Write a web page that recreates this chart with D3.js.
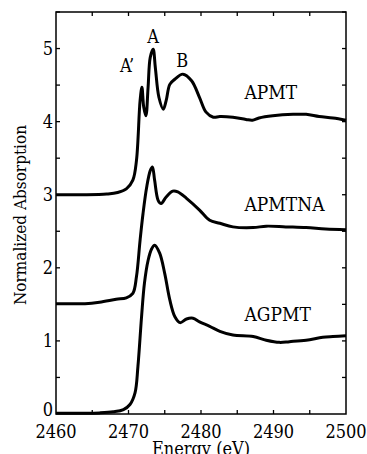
<!DOCTYPE html>
<html>
<head>
<meta charset="utf-8">
<script src="https://cdn.jsdelivr.net/npm/d3@7"></script>
<style>
  body { margin: 0; background: #fff; }
  svg { display: block; }
  svg text { font-family: 'DejaVu Serif Condensed', 'DejaVu Serif', serif; font-stretch: condensed; }
</style>
</head>
<body>
<svg id="chart" width="367" height="454"></svg>
<script>
// energy grid (eV) and normalized absorption
const apmtE = [2460, 2464, 2467, 2468.5, 2469.7, 2470.6, 2471.1, 2471.6, 2471.85, 2472.1, 2472.4, 2472.7, 2473.0, 2473.4, 2473.7, 2474.2, 2474.8, 2475.2, 2475.7, 2476.4, 2477.5, 2478.7, 2479.8, 2480.7, 2481.7, 2482.6, 2484.4, 2486.2, 2487.1, 2488.0, 2489.9, 2492.7, 2494.5, 2496.3, 2498.2, 2500]
const apmtV = [3.0, 3.0, 3.01, 3.03, 3.08, 3.2, 3.47, 4.29, 4.47, 4.2, 4.08, 4.47, 4.88, 4.99, 4.74, 4.33, 4.17, 4.29, 4.51, 4.58, 4.65, 4.56, 4.33, 4.13, 4.06, 4.07, 4.06, 4.03, 4.02, 4.05, 4.08, 4.10, 4.10, 4.07, 4.05, 4.02]

const apmtnaE = [2460, 2464, 2466, 2468.3, 2469.7, 2470.6, 2471.1, 2471.6, 2472.0, 2472.5, 2473.0, 2473.3, 2473.6, 2474.1, 2474.5, 2475.2, 2476.1, 2476.8, 2478.0, 2479.8, 2481.2, 2482.6, 2484.4, 2487.2, 2489.0, 2491.7, 2494.5, 2497.2, 2500]
const apmtnaV = [1.51, 1.51, 1.53, 1.57, 1.59, 1.65, 1.88, 2.38, 2.74, 3.10, 3.33, 3.38, 3.2, 2.92, 2.88, 2.97, 3.05, 3.04, 2.95, 2.79, 2.65, 2.61, 2.56, 2.55, 2.57, 2.56, 2.55, 2.53, 2.52]

const agpmtE = [2460, 2464, 2466, 2467.9, 2469.3, 2470.2, 2470.9, 2471.3, 2471.8, 2472.2, 2472.7, 2473.2, 2473.6, 2474.3, 2475.0, 2475.7, 2476.4, 2477.1, 2478.0, 2478.9, 2479.8, 2481.2, 2482.6, 2484.4, 2487.2, 2489.0, 2490.8, 2492.2, 2494.5, 2496.8, 2498.2, 2500]
const agpmtV = [0.01, 0.01, 0.015, 0.03, 0.06, 0.13, 0.29, 0.65, 1.33, 1.79, 2.10, 2.26, 2.31, 2.2, 1.92, 1.56, 1.33, 1.25, 1.30, 1.31, 1.26, 1.20, 1.13, 1.08, 1.06, 1.01, 0.98, 0.99, 1.01, 1.05, 1.06, 1.07]

const seriesNames = ['APMT', 'APMTNA', 'AGPMT']
const seriesLabelE = 2486.0
const seriesLabelValue = [4.31, 2.78, 1.27]
const xTickLabels = [2460, 2470, 2480, 2490, 2500]
const yTickLabels = [0, 1, 2, 3, 4, 5]
const peakNames = ['A\u2019', 'A', 'B']
const peakE = [2469.8, 2473.4, 2477.4]
const peakV = [4.68, 5.08, 4.75]

const width = 367
const height = 454
const margin = { top: 12, right: 21, bottom: 40, left: 56 }

const svg = d3.select('#chart')

const x = d3.scaleLinear().domain([2460, 2500]).range([margin.left, width - margin.right])
const y = d3.scaleLinear().domain([0, 5.5]).range([height - margin.bottom, margin.top])

const xMinor = d3.range(2460, 2500.1, 5)
const yMinor = d3.range(0, 5.51, 0.5)
const tickLen = 4

// frame
svg
  .append('rect')
  .attr('x', x(2460))
  .attr('y', y(5.5))
  .attr('width', x(2500) - x(2460))
  .attr('height', y(0) - y(5.5))
  .attr('fill', 'none')
  .attr('stroke', '#000')
  .attr('stroke-width', 1.5)

// inward ticks on all four sides
const ticks = svg.append('g').attr('stroke', '#000').attr('stroke-width', 1.3)
xMinor.slice(1, -1).forEach((e) => {
  ticks.append('line').attr('x1', x(e)).attr('x2', x(e)).attr('y1', y(0)).attr('y2', y(0) - tickLen)
  ticks.append('line').attr('x1', x(e)).attr('x2', x(e)).attr('y1', y(5.5)).attr('y2', y(5.5) + tickLen)
})
yMinor.slice(1).forEach((v) => {
  ticks.append('line').attr('x1', x(2460)).attr('x2', x(2460) + tickLen).attr('y1', y(v)).attr('y2', y(v))
  ticks.append('line').attr('x1', x(2500)).attr('x2', x(2500) - tickLen).attr('y1', y(v)).attr('y2', y(v))
})

// tick labels
svg
  .append('g')
  .attr('font-size', 18)
  .selectAll('text')
  .data(xTickLabels)
  .join('text')
  .attr('x', (d) => x(d))
  .attr('y', height - 16)
  .attr('text-anchor', 'middle')
  .text((d) => d)

svg
  .append('g')
  .attr('font-size', 18)
  .selectAll('text')
  .data(yTickLabels)
  .join('text')
  .attr('x', x(2460) - 3)
  .attr('y', (d) => (d === 0 ? y(d) - 4 : y(d)))
  .attr('dy', '0.35em')
  .attr('text-anchor', 'end')
  .text((d) => d)

// axis titles
svg
  .append('text')
  .attr('font-size', 17)
  .attr('text-anchor', 'middle')
  .attr('transform', `translate(26, ${(y(0) + y(5.5)) / 2 + 2}) rotate(-90)`)
  .text('Normalized Absorption')

svg
  .append('text')
  .attr('font-size', 18)
  .attr('text-anchor', 'middle')
  .attr('x', x(2480))
  .attr('y', height + 1)
  .text('Energy  (eV)')

// spectra
const line = d3
  .line()
  .x((d) => x(d[0]))
  .y((d) => y(d[1]))
  .curve(d3.curveCatmullRom.alpha(0.5))

const spectra = [
  d3.zip(apmtE, apmtV),
  d3.zip(apmtnaE, apmtnaV),
  d3.zip(agpmtE, agpmtV),
]

svg
  .append('g')
  .attr('fill', 'none')
  .attr('stroke', '#000')
  .attr('stroke-width', 3)
  .attr('stroke-linejoin', 'round')
  .selectAll('path')
  .data(spectra)
  .join('path')
  .attr('d', line)

// series names
svg
  .append('g')
  .attr('font-size', 19)
  .selectAll('text')
  .data(seriesNames)
  .join('text')
  .attr('x', x(seriesLabelE))
  .attr('y', (d, i) => y(seriesLabelValue[i]))
  .text((d) => d)

// peak annotations
svg
  .append('g')
  .attr('font-size', 18)
  .attr('text-anchor', 'middle')
  .selectAll('text')
  .data(peakNames)
  .join('text')
  .attr('x', (d, i) => x(peakE[i]))
  .attr('y', (d, i) => y(peakV[i]))
  .text((d) => d)
</script>
</body>
</html>
